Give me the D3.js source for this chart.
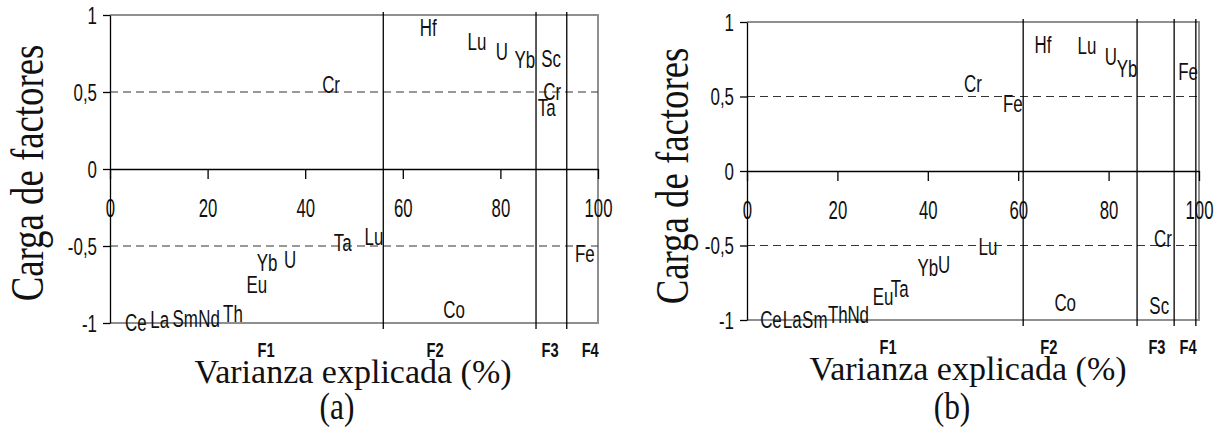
<!DOCTYPE html>
<html>
<head>
<meta charset="utf-8">
<script src="https://cdn.jsdelivr.net/npm/d3@7"></script>
<style>
  body { margin: 0; background: #fff; }
  svg { display: block; }
</style>
</head>
<body>
<div id="chart"></div>
<script>
// shared axis values
const varianceTicks = [0, 20, 40, 60, 80, 100];
const loadingTicks = [-1, -0.5, 0, 0.5, 1];
const cutoffLoadings = [0.5, -0.5];
const factorNames = ['F1', 'F2', 'F3', 'F4'];

// panel (a)
const elementsA = ['Hf', 'Lu', 'U', 'Yb', 'Sc', 'Cr', 'Ta', 'Cr', 'Ce', 'La', 'Sm', 'Nd', 'Th', 'Eu', 'Yb', 'U', 'Ta', 'Lu', 'Co', 'Fe'];
const varianceA = [65.2, 75.2, 80.3, 85.0, 90.4, 90.6, 89.5, 45.3, 5.3, 10.2, 15.4, 20.3, 25.2, 30.1, 32.2, 36.9, 47.7, 54.1, 70.5, 97.3];
const loadingA = [0.92, 0.83, 0.76, 0.71, 0.72, 0.50, 0.40, 0.55, -1.00, -0.98, -0.97, -0.97, -0.94, -0.75, -0.61, -0.59, -0.48, -0.44, -0.91, -0.55];
const factorEndsA = [56.0, 87.3, 93.6];
const factorLabelAtA = [32.0, 66.6, 90.2, 98.4];

// panel (b)
const elementsB = ['Hf', 'Lu', 'U', 'Yb', 'Fe', 'Cr', 'Fe', 'Ce', 'La', 'Sm', 'Th', 'Nd', 'Eu', 'Ta', 'Yb', 'U', 'Lu', 'Co', 'Cr', 'Sc'];
const varianceB = [65.5, 75.2, 80.5, 84.1, 97.6, 50.0, 58.8, 5.3, 10.0, 15.0, 20.1, 24.6, 30.1, 33.8, 40.0, 43.6, 53.3, 70.4, 92.0, 91.2];
const loadingB = [0.85, 0.84, 0.77, 0.69, 0.67, 0.59, 0.45, -1.00, -1.00, -1.00, -0.96, -0.96, -0.84, -0.79, -0.65, -0.63, -0.51, -0.88, -0.45, -0.90];
const factorEndsB = [61.1, 86.3, 94.5, 99.3];
const factorLabelAtB = [31.2, 66.8, 90.7, 97.6];

const SANS = '"Liberation Sans", Arial, sans-serif';
const SERIF = '"Liberation Serif", "Times New Roman", serif';

const fmt = d3.formatLocale({
  decimal: ',', thousands: '.', grouping: [3], currency: ['', ''], minus: '-',
}).format('');

const svg = d3.select('#chart')
  .append('svg')
  .attr('width', 1222)
  .attr('height', 429);

function drawPanel(p) {
  const x = d3.scaleLinear().domain([0, 100]).range([p.left, p.right]);
  const y = d3.scaleLinear().domain([-1, 1]).range([p.bottom, p.top]);

  const g = svg.append('g').attr('class', `panel-${p.name}`);

  // frame (grey top, right, bottom)
  g.append('path')
    .attr('fill', 'none')
    .attr('stroke', '#8f8f8f')
    .attr('stroke-width', 2)
    .attr('d', `M${x(0)},${y(1)}H${x(100)}V${y(-1)}H${x(0)}`);

  // dashed cut-off lines
  g.append('g')
    .selectAll('line')
    .data(cutoffLoadings)
    .join('line')
    .attr('x1', x(0))
    .attr('x2', x(100))
    .attr('y1', (d) => y(d))
    .attr('y2', (d) => y(d))
    .attr('stroke', '#333')
    .attr('stroke-width', 1.2)
    .attr('stroke-dasharray', '8,5');

  // factor boundaries
  g.append('g')
    .selectAll('line')
    .data(p.factorEnds)
    .join('line')
    .attr('x1', (d) => x(d))
    .attr('x2', (d) => x(d))
    .attr('y1', y(1) - 3)
    .attr('y2', y(-1) + 6)
    .attr('stroke', '#000')
    .attr('stroke-width', 1.3);

  // x axis on the zero line
  const gx = g.append('g')
    .attr('transform', `translate(0,${y(0)})`)
    .call(d3.axisBottom(x).tickValues(varianceTicks).tickSize(10).tickSizeOuter(0));
  gx.selectAll('.domain, .tick line').attr('stroke', '#000').attr('stroke-width', 1.3);
  gx.selectAll('.tick text')
    .attr('y', 0)
    .attr('dy', null)
    .attr('transform', 'translate(0,48) scale(0.67,1)')
    .attr('fill', '#111')
    .style('font-family', SANS)
    .style('font-size', '25px');

  // y axis
  const gy = g.append('g')
    .attr('transform', `translate(${x(0)},0)`)
    .call(d3.axisLeft(y).tickValues(loadingTicks).tickSize(7).tickSizeOuter(0).tickFormat(fmt));
  gy.selectAll('.domain, .tick line').attr('stroke', '#000').attr('stroke-width', 1.3);
  gy.selectAll('.tick text')
    .attr('x', 0)
    .attr('dy', '0.36em')
    .attr('transform', 'translate(-13,0) scale(0.72,1)')
    .attr('fill', '#111')
    .style('font-family', SANS)
    .style('font-size', '23.5px');

  // element labels
  const labels = p.elements.map((el, i) => ({ el, v: p.variance[i], l: p.loading[i] }));
  g.append('g')
    .selectAll('text')
    .data(labels)
    .join('text')
    .attr('transform', (d) => `translate(${x(d.v)},${y(d.l)}) scale(0.72,1)`)
    .attr('dy', '0.36em')
    .attr('text-anchor', 'middle')
    .attr('fill', '#111')
    .style('font-family', SANS)
    .style('font-size', '23.5px')
    .text((d) => d.el);

  // factor names under the plot
  g.append('g')
    .selectAll('text')
    .data(p.factorLabelAt)
    .join('text')
    .attr('transform', (d) => `translate(${x(d)},${y(-1) + 34}) scale(0.7,1)`)
    .attr('text-anchor', 'middle')
    .attr('fill', '#111')
    .style('font-family', SANS)
    .style('font-weight', 'bold')
    .style('font-size', '21px')
    .text((_, i) => factorNames[i]);

  // titles
  g.append('text')
    .attr('transform', `translate(${p.yTitleX},${p.yTitleY}) rotate(-90) scale(0.8,1)`)
    .attr('text-anchor', 'middle')
    .attr('fill', '#111')
    .style('font-family', SERIF)
    .style('font-size', '46px')
    .text('Carga de factores');

  g.append('text')
    .attr('x', p.xTitleX)
    .attr('y', p.xTitleY)
    .attr('text-anchor', 'middle')
    .attr('fill', '#111')
    .style('font-family', SERIF)
    .style('font-size', '34px')
    .text('Varianza explicada (%)');

  g.append('text')
    .attr('transform', `translate(${p.tagX},419) scale(0.85,1)`)
    .attr('text-anchor', 'middle')
    .attr('fill', '#111')
    .style('font-family', SERIF)
    .style('font-size', '37px')
    .text(`(${p.name})`);
}

drawPanel({
  name: 'a',
  left: 110, right: 598, top: 15, bottom: 323,
  elements: elementsA, variance: varianceA, loading: loadingA,
  factorEnds: factorEndsA, factorLabelAt: factorLabelAtA,
  yTitleX: 43, yTitleY: 173, xTitleX: 353, xTitleY: 383, tagX: 337,
});

drawPanel({
  name: 'b',
  left: 747, right: 1199, top: 22, bottom: 320,
  elements: elementsB, variance: varianceB, loading: loadingB,
  factorEnds: factorEndsB, factorLabelAt: factorLabelAtB,
  yTitleX: 688, yTitleY: 176, xTitleX: 968, xTitleY: 380, tagX: 952,
});
</script>
</body>
</html>
